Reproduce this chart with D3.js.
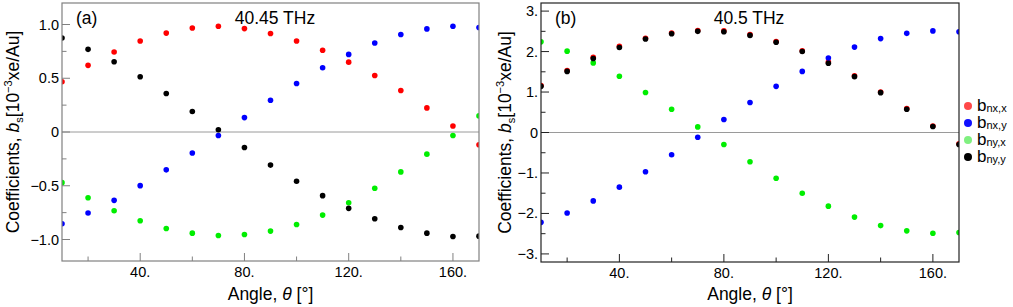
<!DOCTYPE html>
<html>
<head>
<meta charset="utf-8">
<script src="https://cdn.jsdelivr.net/npm/d3@7"></script>
<style>
  body { margin: 0; background: #fff; }
  svg { display: block; font-family: "Liberation Sans", Arial, sans-serif; }
</style>
</head>
<body>
<script>
var W = 1013, H = 307;

// angles in degrees
var angles = [10, 20, 30, 40, 50, 60, 70, 80, 90, 100, 110, 120, 130, 140, 150, 160, 170];

// panel (a) 40.45 THz
var aNxX = [0.467, 0.62, 0.744, 0.847, 0.92, 0.968, 0.984, 0.962, 0.916, 0.847, 0.76, 0.65, 0.526, 0.386, 0.224, 0.056, -0.119];
var aNxY = [-0.854, -0.754, -0.636, -0.499, -0.352, -0.196, -0.032, 0.134, 0.295, 0.451, 0.598, 0.722, 0.828, 0.907, 0.959, 0.984, 0.972];
var aNyX = [-0.471, -0.611, -0.733, -0.826, -0.897, -0.941, -0.963, -0.953, -0.922, -0.86, -0.773, -0.658, -0.523, -0.371, -0.206, -0.032, 0.15];
var aNyY = [0.875, 0.769, 0.654, 0.514, 0.358, 0.19, 0.021, -0.144, -0.308, -0.458, -0.592, -0.71, -0.807, -0.888, -0.941, -0.972, -0.969];

// panel (b) 40.5 THz
var bNxX = [1.16, 1.53, 1.86, 2.13, 2.33, 2.46, 2.52, 2.51, 2.42, 2.25, 2.02, 1.74, 1.40, 1.0, 0.59, 0.16, -0.28];
var bNxY = [-2.22, -1.99, -1.69, -1.35, -0.97, -0.55, -0.116, 0.32, 0.74, 1.14, 1.51, 1.84, 2.11, 2.32, 2.45, 2.51, 2.49];
var bNyX = [2.24, 2.01, 1.72, 1.39, 0.99, 0.574, 0.138, -0.296, -0.724, -1.13, -1.50, -1.82, -2.09, -2.30, -2.43, -2.49, -2.47];
var bNyY = [1.14, 1.51, 1.83, 2.10, 2.31, 2.44, 2.50, 2.49, 2.40, 2.23, 2.00, 1.71, 1.38, 0.985, 0.574, 0.148, -0.296];

var xTicks = [40, 80, 120, 160];
var xMinor = [20, 60, 100, 140];
var aYTicks = [-1, -0.5, 0, 0.5, 1];
var aYLabels = ["\u22121.0", "\u22120.5", "0", "0.5", "1.0"];
var aYMinor = [-0.75, -0.25, 0.25, 0.75];
var bYTicks = [-3, -2, -1, 0, 1, 2, 3];
var bYLabels = ["\u22123.", "\u22122.", "\u22121.", "0", "1.", "2.", "3."];
var bYMinor = [-2.5, -1.5, -0.5, 0.5, 1.5, 2.5];

var seriesNames = ["nx,x", "nx,y", "ny,x", "ny,y"];
var seriesColors = ["#ff0000", "#0000ff", "#00ee00", "#000000"];
var legendColors = ["#ff4848", "#1010ff", "#80f080", "#000000"];

var svg = d3.select("body").append("svg")
  .attr("width", W)
  .attr("height", H);

function panel(cfg) {
  var x = d3.scaleLinear().domain([10, 170]).range([cfg.left, cfg.right]);
  var y = d3.scaleLinear().domain(cfg.yDomain).range([cfg.bottom, cfg.top]);
  var g = svg.append("g");

  g.append("clipPath").attr("id", cfg.id)
    .append("rect")
    .attr("x", cfg.left).attr("y", cfg.top)
    .attr("width", cfg.right - cfg.left).attr("height", cfg.bottom - cfg.top);

  // zero line
  g.append("line")
    .attr("x1", cfg.left).attr("x2", cfg.right)
    .attr("y1", y(0)).attr("y2", y(0))
    .attr("stroke", "#9a9a9a").attr("stroke-width", 1);

  // points
  var pts = g.append("g").attr("clip-path", "url(#" + cfg.id + ")");
  cfg.series.forEach(function(vals, k) {
    pts.selectAll(null)
      .data(vals)
      .enter().append("circle")
      .attr("cx", function(d, i) { return x(angles[i]); })
      .attr("cy", function(d) { return y(d); })
      .attr("r", 2.8)
      .attr("fill", seriesColors[k]);
  });

  // frame
  g.append("rect")
    .attr("x", cfg.left).attr("y", cfg.top)
    .attr("width", cfg.right - cfg.left).attr("height", cfg.bottom - cfg.top)
    .attr("fill", "none").attr("stroke", cfg.frame).attr("stroke-width", 1.2);

  // x ticks (inward)
  g.selectAll(null).data(xTicks).enter().append("line")
    .attr("x1", function(d) { return x(d); }).attr("x2", function(d) { return x(d); })
    .attr("y1", cfg.bottom).attr("y2", cfg.bottom - 8)
    .attr("stroke", cfg.frame);
  g.selectAll(null).data(xMinor).enter().append("line")
    .attr("x1", function(d) { return x(d); }).attr("x2", function(d) { return x(d); })
    .attr("y1", cfg.bottom).attr("y2", cfg.bottom - 4.5)
    .attr("stroke", cfg.frame);
  g.selectAll(null).data(xTicks).enter().append("text")
    .attr("x", function(d) { return x(d); })
    .attr("y", cfg.bottom + 16)
    .attr("text-anchor", "middle")
    .attr("font-size", 14.5)
    .text(function(d) { return d + "."; });

  // y ticks (inward)
  g.selectAll(null).data(cfg.yTicks).enter().append("line")
    .attr("x1", cfg.left).attr("x2", cfg.left + 8)
    .attr("y1", function(d) { return y(d); }).attr("y2", function(d) { return y(d); })
    .attr("stroke", cfg.frame);
  g.selectAll(null).data(cfg.yMinor).enter().append("line")
    .attr("x1", cfg.left).attr("x2", cfg.left + 4.5)
    .attr("y1", function(d) { return y(d); }).attr("y2", function(d) { return y(d); })
    .attr("stroke", cfg.frame);
  g.selectAll(null).data(cfg.yTicks).enter().append("text")
    .attr("x", cfg.left - 3)
    .attr("y", function(d) { return y(d) + 5; })
    .attr("text-anchor", "end")
    .attr("font-size", 14.5)
    .text(function(d, i) { return cfg.yLabels[i]; });

  // panel label and frequency
  g.append("text").attr("x", cfg.left + 14).attr("y", 24)
    .attr("font-size", 17.5).text(cfg.tag);
  g.append("text").attr("x", cfg.freqX).attr("y", 24)
    .attr("text-anchor", "middle")
    .attr("font-size", 17.5).text(cfg.freq);

  // x axis label
  var xl = g.append("text")
    .attr("x", (cfg.left + cfg.right) / 2).attr("y", 300)
    .attr("text-anchor", "middle").attr("font-size", 17.5);
  xl.append("tspan").text("Angle, ");
  xl.append("tspan").attr("font-style", "italic").text("\u03b8");
  xl.append("tspan").text(" [\u00b0]");

  // y axis label
  var yl = g.append("text")
    .attr("transform", "translate(" + cfg.ylabX + "," + ((cfg.top + cfg.bottom) / 2) + ") rotate(-90)")
    .attr("text-anchor", "middle").attr("font-size", 17.5);
  yl.append("tspan").text("Coefficients, ");
  yl.append("tspan").attr("font-style", "italic").text("b");
  yl.append("tspan").attr("font-size", 11).attr("dy", 4).text("s");
  yl.append("tspan").attr("dy", -4).text("[10");
  yl.append("tspan").attr("font-size", 11).attr("dy", -7).text("\u22123");
  yl.append("tspan").attr("dy", 7).text("xe/Au]");
}

panel({
  id: "clipA", left: 62, right: 479, top: 3, bottom: 261,
  yDomain: [-1.2, 1.2], yTicks: aYTicks, yLabels: aYLabels, yMinor: aYMinor,
  series: [aNxX, aNxY, aNyX, aNyY], frame: "#808080",
  tag: "(a)", freq: "40.45 THz", freqX: 275, ylabX: 19
});

panel({
  id: "clipB", left: 541, right: 959, top: 3, bottom: 262,
  yDomain: [-3.2, 3.2], yTicks: bYTicks, yLabels: bYLabels, yMinor: bYMinor,
  series: [bNxX, bNxY, bNyX, bNyY], frame: "#222",
  tag: "(b)", freq: "40.5 THz", freqX: 749, ylabX: 511
});

// legend
var leg = svg.append("g");
seriesNames.forEach(function(name, k) {
  var ly = 106 + k * 17;
  leg.append("circle").attr("cx", 968).attr("cy", ly).attr("r", 4).attr("fill", legendColors[k]);
  var t = leg.append("text").attr("x", 977).attr("y", ly + 5).attr("font-size", 17);
  t.append("tspan").text("b");
  t.append("tspan").attr("font-size", 11).attr("dy", 1).text(name);
});
</script>
</body>
</html>
